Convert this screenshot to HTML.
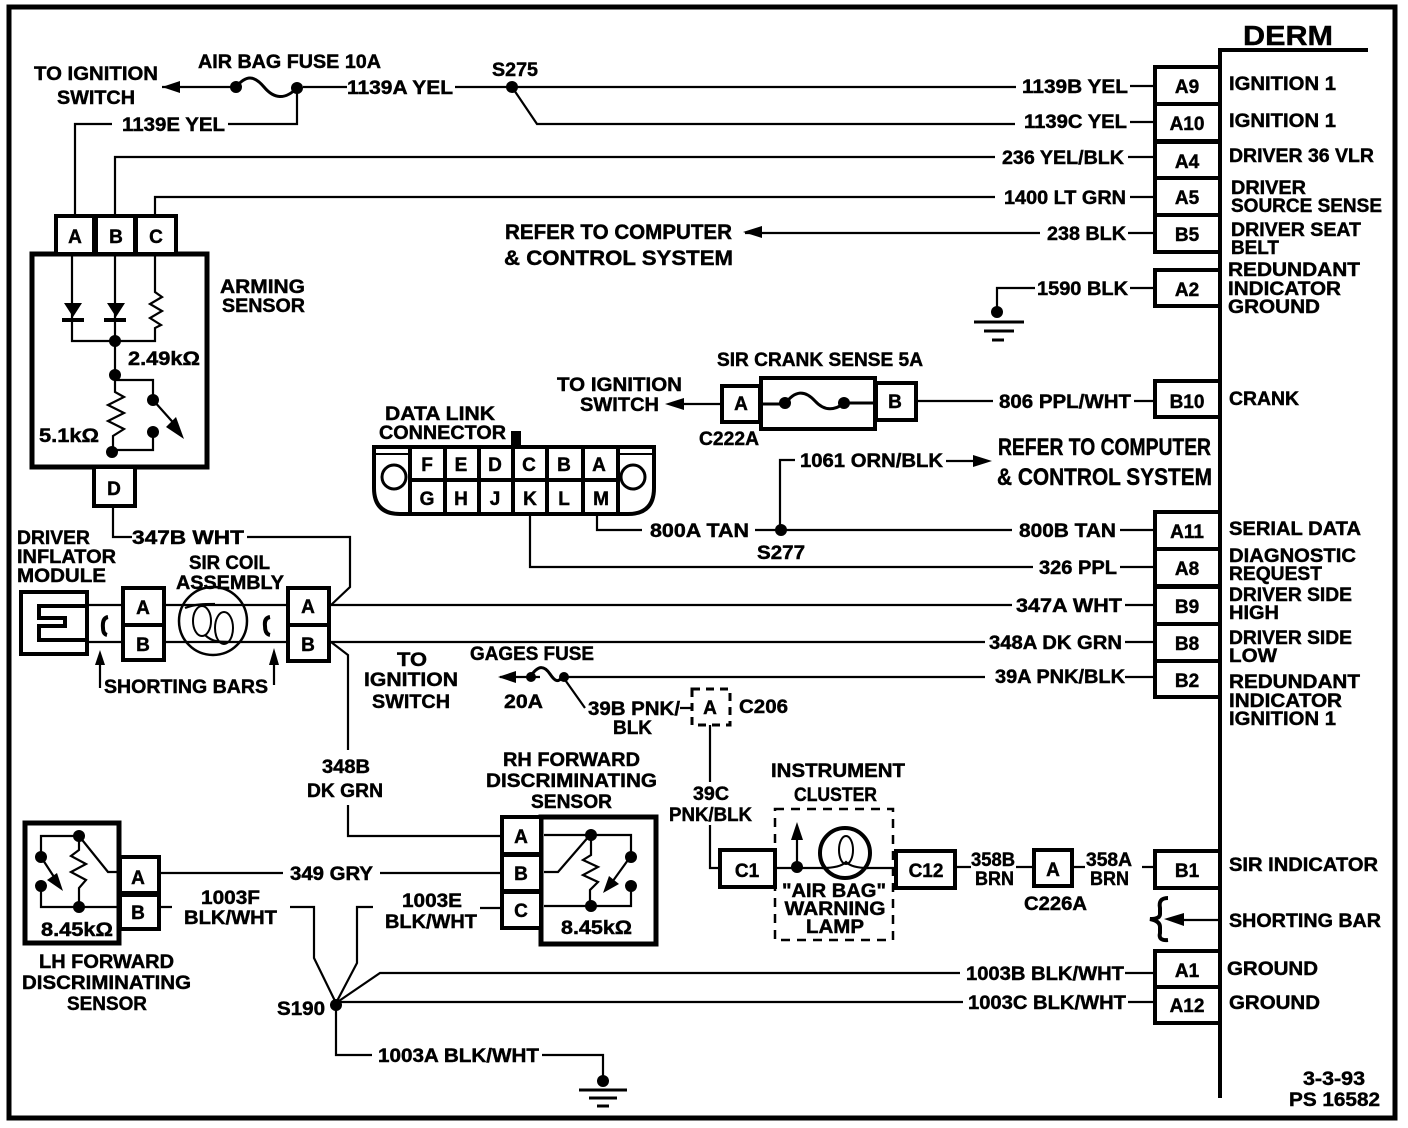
<!DOCTYPE html>
<html><head><meta charset="utf-8"><style>
html,body{margin:0;padding:0;background:#fff}
svg{display:block}
text{font-family:"Liberation Sans",sans-serif;font-weight:bold;font-size:19px;fill:#000;stroke:#000;stroke-width:.45}
.w{fill:none;stroke:#000;stroke-width:2.2}
.b{fill:#fff;stroke:#000;stroke-width:4}
.d{fill:#000;stroke:none}
.m{text-anchor:middle}
</style></head><body>
<svg width="1408" height="1128" viewBox="0 0 1408 1128" xmlns="http://www.w3.org/2000/svg">
<rect width="1408" height="1128" fill="#fff"/>
<rect x="9" y="7" width="1386" height="1111" fill="none" stroke="#000" stroke-width="5"/>

<!-- DERM -->
<path d="M1220 1098V50H1368" fill="none" stroke="#000" stroke-width="4"/>
<text x="1243" y="45" textLength="90" lengthAdjust="spacingAndGlyphs" style="font-size:28px">DERM</text>

<!-- Wires -->
<path class="w" d="M303 87H347M455 87H1016M1130 86H1155M512 87L537 124H1015M1130 122H1155M1128 157H1155M1130 197H1155M1128 233H1155M1130 288H1155M1134 401H1155"/>
<path class="w" d="M75 216V124H112M228 124H297V88M115 216V157H995M155 216V197H995M1040 233H745M1035 288H997V310"/>
<path class="w" d="M162 87H236"/>
<path class="w" d="M918 401H993M720 404H683"/>
<path class="w" d="M780 530V460H795M946 461H975"/>
<path class="w" d="M597 514V530H642M755 530H1012M1120 530H1155M530 514V567H1033M1120 567H1155"/>
<path class="w" d="M113 506V537H132M247 537H350V587L331 605"/>
<path class="w" d="M331 605H1012M1125 605H1155M331 642H985M1125 642H1155M331 642L348 655V750M348 805V836H502"/>
<path class="w" d="M500 677H540M563 677H985M1125 677H1155M563 677L585 708M680 708H692"/>
<path class="w" d="M710 722V782M710 825V868H722"/>
<path class="w" d="M160 873H283M380 873H502M160 907H172M290 907H314V958L336 1003M373 907H357V963L336 1003M336 1003L380 973H960M1125 973H1155M336 1002H963M1128 1002H1155M336 1003V1055H372M542 1055H603V1085M480 908H502"/>
<path class="w" d="M957 867H971M1142 867H1155M1175 920H1220"/>

<!-- DERM pins -->
<g class="b">
<rect x="1155" y="67" width="65" height="37"/><rect x="1155" y="104" width="65" height="37"/>
<rect x="1155" y="142" width="65" height="36"/><rect x="1155" y="178" width="65" height="37"/>
<rect x="1155" y="215" width="65" height="37"/><rect x="1155" y="270" width="65" height="36"/>
<rect x="1155" y="381" width="65" height="36"/><rect x="1155" y="512" width="65" height="37"/>
<rect x="1155" y="549" width="65" height="37"/><rect x="1155" y="587" width="65" height="37"/>
<rect x="1155" y="624" width="65" height="37"/><rect x="1155" y="661" width="65" height="36"/>
<rect x="1155" y="851" width="65" height="37"/><rect x="1155" y="951" width="65" height="36"/>
<rect x="1155" y="987" width="65" height="36"/>
</g>
<g class="m">
<text x="1187" y="93">A9</text><text x="1187" y="130">A10</text><text x="1187" y="168">A4</text><text x="1187" y="204">A5</text>
<text x="1187" y="241">B5</text><text x="1187" y="296">A2</text><text x="1187" y="408">B10</text><text x="1187" y="538">A11</text>
<text x="1187" y="575">A8</text><text x="1187" y="613">B9</text><text x="1187" y="650">B8</text><text x="1187" y="687">B2</text>
<text x="1187" y="877">B1</text><text x="1187" y="977">A1</text><text x="1187" y="1012">A12</text>
</g>

<!-- DERM labels -->
<text x="1229" y="90" textLength="107" lengthAdjust="spacingAndGlyphs">IGNITION 1</text>
<text x="1229" y="127" textLength="107" lengthAdjust="spacingAndGlyphs">IGNITION 1</text>
<text x="1229" y="162" textLength="145" lengthAdjust="spacingAndGlyphs">DRIVER 36 VLR</text>
<text x="1231" y="194" textLength="75" lengthAdjust="spacingAndGlyphs">DRIVER</text>
<text x="1231" y="212" textLength="151" lengthAdjust="spacingAndGlyphs">SOURCE SENSE</text>
<text x="1231" y="236" textLength="130" lengthAdjust="spacingAndGlyphs">DRIVER SEAT</text>
<text x="1231" y="254" textLength="48" lengthAdjust="spacingAndGlyphs">BELT</text>
<text x="1228" y="276" textLength="132" lengthAdjust="spacingAndGlyphs">REDUNDANT</text>
<text x="1228" y="295" textLength="113" lengthAdjust="spacingAndGlyphs">INDICATOR</text>
<text x="1228" y="313" textLength="92" lengthAdjust="spacingAndGlyphs">GROUND</text>
<text x="1229" y="405" textLength="70" lengthAdjust="spacingAndGlyphs">CRANK</text>
<text x="1229" y="535" textLength="132" lengthAdjust="spacingAndGlyphs">SERIAL DATA</text>
<text x="1229" y="562" textLength="127" lengthAdjust="spacingAndGlyphs">DIAGNOSTIC</text>
<text x="1229" y="580" textLength="93" lengthAdjust="spacingAndGlyphs">REQUEST</text>
<text x="1229" y="601" textLength="123" lengthAdjust="spacingAndGlyphs">DRIVER SIDE</text>
<text x="1229" y="619" textLength="50" lengthAdjust="spacingAndGlyphs">HIGH</text>
<text x="1229" y="644" textLength="123" lengthAdjust="spacingAndGlyphs">DRIVER SIDE</text>
<text x="1229" y="662" textLength="48" lengthAdjust="spacingAndGlyphs">LOW</text>
<text x="1229" y="688" textLength="131" lengthAdjust="spacingAndGlyphs">REDUNDANT</text>
<text x="1229" y="707" textLength="113" lengthAdjust="spacingAndGlyphs">INDICATOR</text>
<text x="1229" y="725" textLength="107" lengthAdjust="spacingAndGlyphs">IGNITION 1</text>
<text x="1229" y="871" textLength="149" lengthAdjust="spacingAndGlyphs">SIR INDICATOR</text>
<text x="1229" y="927" textLength="152" lengthAdjust="spacingAndGlyphs">SHORTING BAR</text>
<text x="1227" y="975" textLength="91" lengthAdjust="spacingAndGlyphs">GROUND</text>
<text x="1229" y="1009" textLength="91" lengthAdjust="spacingAndGlyphs">GROUND</text>
<text x="1303" y="1085" textLength="62" lengthAdjust="spacingAndGlyphs">3-3-93</text>
<text x="1289" y="1106" textLength="91" lengthAdjust="spacingAndGlyphs">PS 16582</text>

<!-- Shorting bar DERM -->
<path d="M1168 898Q1158 898 1160 908V914Q1160 919 1150 919Q1160 921 1160 927V933Q1158 941 1168 940" fill="none" stroke="#000" stroke-width="4"/>
<path class="d" d="M1164 919L1184 913V926Z"/>

<!-- Wire labels -->
<text x="347" y="94" textLength="106" lengthAdjust="spacingAndGlyphs">1139A YEL</text>
<text x="492" y="76" textLength="46" lengthAdjust="spacingAndGlyphs">S275</text>
<text x="1022" y="93" textLength="106" lengthAdjust="spacingAndGlyphs">1139B YEL</text>
<text x="1024" y="128" textLength="103" lengthAdjust="spacingAndGlyphs">1139C YEL</text>
<text x="1002" y="164" textLength="122" lengthAdjust="spacingAndGlyphs">236 YEL/BLK</text>
<text x="1004" y="204" textLength="122" lengthAdjust="spacingAndGlyphs">1400 LT GRN</text>
<text x="1047" y="240" textLength="79" lengthAdjust="spacingAndGlyphs">238 BLK</text>
<text x="1037" y="295" textLength="91" lengthAdjust="spacingAndGlyphs">1590 BLK</text>
<text x="999" y="408" textLength="132" lengthAdjust="spacingAndGlyphs">806 PPL/WHT</text>
<text x="1019" y="537" textLength="97" lengthAdjust="spacingAndGlyphs">800B TAN</text>
<text x="1039" y="574" textLength="78" lengthAdjust="spacingAndGlyphs">326 PPL</text>
<text x="1016" y="612" textLength="106" lengthAdjust="spacingAndGlyphs">347A WHT</text>
<text x="989" y="649" textLength="133" lengthAdjust="spacingAndGlyphs">348A DK GRN</text>
<text x="995" y="683" textLength="130" lengthAdjust="spacingAndGlyphs">39A PNK/BLK</text>
<text x="966" y="980" textLength="158" lengthAdjust="spacingAndGlyphs">1003B BLK/WHT</text>
<text x="968" y="1009" textLength="158" lengthAdjust="spacingAndGlyphs">1003C BLK/WHT</text>
<text x="378" y="1062" textLength="161" lengthAdjust="spacingAndGlyphs">1003A BLK/WHT</text>

<text x="198" y="68" textLength="183" lengthAdjust="spacingAndGlyphs">AIR BAG FUSE 10A</text>
<text x="34" y="80" textLength="124" lengthAdjust="spacingAndGlyphs">TO IGNITION</text>
<text x="57" y="104" textLength="78" lengthAdjust="spacingAndGlyphs">SWITCH</text>
<text x="122" y="131" textLength="103" lengthAdjust="spacingAndGlyphs">1139E YEL</text>
<text x="505" y="239" textLength="227" lengthAdjust="spacingAndGlyphs" style="font-size:21px">REFER TO COMPUTER</text>
<text x="504" y="265" textLength="229" lengthAdjust="spacingAndGlyphs" style="font-size:21px">&amp; CONTROL SYSTEM</text>
<text x="220" y="293" textLength="85" lengthAdjust="spacingAndGlyphs">ARMING</text>
<text x="222" y="312" textLength="83" lengthAdjust="spacingAndGlyphs">SENSOR</text>

<!-- Fuse air bag -->
<path d="M236 87C246 75 254 75 264 87S285 100 297 88" fill="none" stroke="#000" stroke-width="3"/>
<circle class="d" cx="236" cy="87" r="6"/><circle class="d" cx="297" cy="88" r="6"/>
<path class="d" d="M162 87L180 81V93Z"/>
<circle class="d" cx="512" cy="87" r="6"/>
<path class="d" d="M743 232L762 226V238Z"/>

<!-- Ground A2 -->
<circle class="d" cx="997" cy="312" r="6"/>
<path d="M974 322H1024M984 331H1014M992 340H1004" fill="none" stroke="#000" stroke-width="3"/>

<!-- Arming sensor -->
<rect x="32" y="254" width="175" height="213" fill="#fff" stroke="#000" stroke-width="5"/>
<rect x="56" y="216" width="38" height="38" class="b"/><rect x="96" y="216" width="39" height="38" class="b"/><rect x="136" y="216" width="40" height="38" class="b"/>
<text class="m" x="75" y="243">A</text><text class="m" x="116" y="243">B</text><text class="m" x="156" y="243">C</text>
<path class="w" d="M72 256V341H155V328L161 325 150 318 162 311 150 304 162 297 155 292V256M115 256V375M115 380H153V400M113 450H153V432"/>
<path class="w" d="M115 375V392L124 397 108 405 124 413 108 421 124 429 113 436V452"/>
<path class="d" d="M64 303H82L73 317ZM107 303H125L116 317Z"/>
<rect class="d" x="62" y="318" width="22" height="4"/><rect class="d" x="104" y="318" width="22" height="4"/>
<circle class="d" cx="115" cy="341" r="6"/><circle class="d" cx="115" cy="375" r="6"/><circle class="d" cx="112" cy="452" r="6"/>
<circle class="d" cx="153" cy="400" r="6"/><circle class="d" cx="153" cy="432" r="6"/>
<path class="w" d="M153 400L178 428"/><path class="d" d="M184 439L166 427 176 417Z"/>
<rect x="94" y="467" width="41" height="39" class="b"/><text class="m" x="114" y="495">D</text>
<text x="128" y="365" textLength="72" lengthAdjust="spacingAndGlyphs">2.49kΩ</text>
<text x="39" y="442" textLength="60" lengthAdjust="spacingAndGlyphs">5.1kΩ</text>

<!-- Crank -->
<text x="717" y="366" textLength="206" lengthAdjust="spacingAndGlyphs">SIR CRANK SENSE 5A</text>
<text x="557" y="391" textLength="125" lengthAdjust="spacingAndGlyphs">TO IGNITION</text>
<text x="580" y="411" textLength="79" lengthAdjust="spacingAndGlyphs">SWITCH</text>
<path class="d" d="M665 404L684 398V410Z"/>
<rect x="722" y="386" width="38" height="36" class="b"/><rect x="761" y="378" width="114" height="51" class="b"/><rect x="876" y="383" width="40" height="37" class="b"/>
<text class="m" x="741" y="410">A</text><text class="m" x="895" y="408">B</text>
<path d="M761 404H785C795 390 805 390 815 401S835 410 845 403H875" fill="none" stroke="#000" stroke-width="3"/>
<circle class="d" cx="785" cy="403" r="6"/><circle class="d" cx="844" cy="403" r="6"/>
<text x="699" y="445" textLength="60" lengthAdjust="spacingAndGlyphs">C222A</text>

<!-- Refer (2) -->
<text x="998" y="455" textLength="213" lengthAdjust="spacingAndGlyphs" style="font-size:24px">REFER TO COMPUTER</text>
<text x="997" y="485" textLength="215" lengthAdjust="spacingAndGlyphs" style="font-size:24px">&amp; CONTROL SYSTEM</text>
<text x="800" y="467" textLength="143" lengthAdjust="spacingAndGlyphs">1061 ORN/BLK</text>
<path class="d" d="M992 461L973 455V467Z"/>
<text x="650" y="537" textLength="99" lengthAdjust="spacingAndGlyphs">800A TAN</text>
<text x="757" y="559" textLength="48" lengthAdjust="spacingAndGlyphs">S277</text>
<circle class="d" cx="781" cy="530" r="6"/>

<!-- DLC -->
<text x="385" y="420" textLength="110" lengthAdjust="spacingAndGlyphs">DATA LINK</text>
<text x="379" y="439" textLength="127" lengthAdjust="spacingAndGlyphs">CONNECTOR</text>
<rect x="511" y="431" width="10" height="14" fill="#000"/>
<path d="M374 447H654V488Q654 514 628 514H400Q374 514 374 488Z" fill="#fff" stroke="#000" stroke-width="4"/>
<path d="M376 454H410M620 454H652" stroke="#000" stroke-width="2"/>
<path d="M410 447V514M445 447V514M479 447V514M513 447V514M547 447V514M583 447V514M618 447V514M410 480H618" stroke="#000" stroke-width="4"/>
<circle cx="394" cy="477" r="12" fill="#fff" stroke="#000" stroke-width="3"/><circle cx="633" cy="477" r="12" fill="#fff" stroke="#000" stroke-width="3"/>
<g class="m">
<text x="427" y="471">F</text><text x="461" y="471">E</text><text x="495" y="471">D</text><text x="529" y="471">C</text><text x="564" y="471">B</text><text x="599" y="471">A</text>
<text x="427" y="505">G</text><text x="461" y="505">H</text><text x="495" y="505">J</text><text x="530" y="505">K</text><text x="564" y="505">L</text><text x="601" y="505">M</text>
</g>

<!-- Inflator / coil -->
<text x="17" y="544" textLength="73" lengthAdjust="spacingAndGlyphs">DRIVER</text>
<text x="17" y="563" textLength="99" lengthAdjust="spacingAndGlyphs">INFLATOR</text>
<text x="17" y="582" textLength="89" lengthAdjust="spacingAndGlyphs">MODULE</text>
<text x="132" y="544" textLength="112" lengthAdjust="spacingAndGlyphs">347B WHT</text>
<text x="189" y="569" textLength="81" lengthAdjust="spacingAndGlyphs">SIR COIL</text>
<text x="176" y="589" textLength="108" lengthAdjust="spacingAndGlyphs">ASSEMBLY</text>
<rect x="21" y="592" width="66" height="62" fill="#fff" stroke="#000" stroke-width="4"/>
<path class="w" d="M85 605H122M85 642H122M165 605H288M165 642H288" stroke-width="3"/>
<path d="M87 606H39V618H65V626H39V640H87" fill="none" stroke="#000" stroke-width="4"/>
<rect x="123" y="588" width="41" height="37" class="b"/><rect x="123" y="625" width="41" height="35" class="b"/>
<rect x="288" y="588" width="41" height="37" class="b"/><rect x="288" y="625" width="41" height="36" class="b"/>
<text class="m" x="143" y="614">A</text><text class="m" x="143" y="651">B</text><text class="m" x="308" y="613">A</text><text class="m" x="308" y="651">B</text>
<circle cx="213" cy="621" r="34" fill="none" stroke="#000" stroke-width="2.5"/>
<path class="w" d="M185 608C195 604 205 604 215 604"/><path class="w" d="M205 635C212 642 220 642 228 642"/>
<ellipse cx="202" cy="621" rx="9" ry="15" fill="none" stroke="#000" stroke-width="2"/><ellipse cx="224" cy="628" rx="9" ry="16" fill="none" stroke="#000" stroke-width="2"/>
<path d="M108 617Q102 618 103 628Q103 634 107 635M270 617Q264 618 265 626Q265 634 270 635" fill="none" stroke="#000" stroke-width="4"/>
<path class="w" d="M100 665V688M274 665V685"/><path class="d" d="M100 650L95 665H105ZM274 648L269 665H279Z"/>
<text x="104" y="693" textLength="164" lengthAdjust="spacingAndGlyphs">SHORTING BARS</text>

<!-- Gages -->
<text x="397" y="666" textLength="30" lengthAdjust="spacingAndGlyphs">TO</text>
<text x="364" y="686" textLength="94" lengthAdjust="spacingAndGlyphs">IGNITION</text>
<text x="372" y="708" textLength="78" lengthAdjust="spacingAndGlyphs">SWITCH</text>
<text x="470" y="660" textLength="124" lengthAdjust="spacingAndGlyphs">GAGES FUSE</text>
<text x="504" y="708" textLength="39" lengthAdjust="spacingAndGlyphs">20A</text>
<path class="d" d="M498 677L516 671V683Z"/>
<path d="M530 677C538 665 544 665 550 674S558 682 564 676" fill="none" stroke="#000" stroke-width="3"/>
<circle class="d" cx="531" cy="677" r="5"/><circle class="d" cx="564" cy="677" r="5"/>
<text x="588" y="715" textLength="92" lengthAdjust="spacingAndGlyphs">39B PNK/</text>
<text x="613" y="734" textLength="39" lengthAdjust="spacingAndGlyphs">BLK</text>
<rect x="692" y="689" width="38" height="36" fill="#fff" stroke="#000" stroke-width="3" stroke-dasharray="8 6"/>
<text class="m" x="710" y="714">A</text>
<text x="739" y="713" textLength="49" lengthAdjust="spacingAndGlyphs">C206</text>
<text x="322" y="773" textLength="48" lengthAdjust="spacingAndGlyphs">348B</text>
<text x="307" y="797" textLength="76" lengthAdjust="spacingAndGlyphs">DK GRN</text>
<text x="693" y="800" textLength="36" lengthAdjust="spacingAndGlyphs">39C</text>
<text x="669" y="821" textLength="83" lengthAdjust="spacingAndGlyphs">PNK/BLK</text>

<!-- RH Sensor -->
<text x="503" y="766" textLength="137" lengthAdjust="spacingAndGlyphs">RH FORWARD</text>
<text x="486" y="787" textLength="171" lengthAdjust="spacingAndGlyphs">DISCRIMINATING</text>
<text x="531" y="808" textLength="81" lengthAdjust="spacingAndGlyphs">SENSOR</text>
<rect x="541" y="817" width="115" height="127" fill="#fff" stroke="#000" stroke-width="5"/>
<rect x="502" y="817" width="39" height="37" class="b"/><rect x="502" y="855" width="39" height="36" class="b"/><rect x="502" y="892" width="39" height="36" class="b"/>
<text class="m" x="521" y="843">A</text><text class="m" x="521" y="880">B</text><text class="m" x="521" y="917">C</text>
<path class="w" d="M544 835H631V855M544 872H558L590 835M591 835V855L583 860 598 867 583 875 598 882 590 890V906M544 906H631V888"/>
<circle class="d" cx="591" cy="835" r="6"/><circle class="d" cx="591" cy="906" r="6"/><circle class="d" cx="631" cy="857" r="6"/><circle class="d" cx="631" cy="886" r="6"/>
<path class="w" d="M628 860L610 885"/><path class="d" d="M603 893L609 876 619 884Z"/>
<text x="561" y="934" textLength="71" lengthAdjust="spacingAndGlyphs">8.45kΩ</text>
<text x="402" y="907" textLength="60" lengthAdjust="spacingAndGlyphs">1003E</text>
<text x="385" y="928" textLength="92" lengthAdjust="spacingAndGlyphs">BLK/WHT</text>

<!-- LH Sensor -->
<rect x="25" y="823" width="94" height="120" fill="#fff" stroke="#000" stroke-width="5"/>
<rect x="120" y="857" width="39" height="36" class="b"/><rect x="120" y="895" width="39" height="34" class="b"/>
<text class="m" x="138" y="884">A</text><text class="m" x="138" y="919">B</text>
<path class="w" d="M41 857V836H79V850L71 856 86 864 71 872 86 880 79 888V907H41V887M79 836L108 872H119M79 907H119"/>
<circle class="d" cx="79" cy="836" r="6"/><circle class="d" cx="79" cy="907" r="6"/><circle class="d" cx="41" cy="857" r="6"/><circle class="d" cx="41" cy="886" r="6"/>
<path class="w" d="M43 860L56 880"/><path class="d" d="M63 891L47 880 57 873Z"/>
<text x="41" y="936" textLength="72" lengthAdjust="spacingAndGlyphs">8.45kΩ</text>
<text x="39" y="968" textLength="135" lengthAdjust="spacingAndGlyphs">LH FORWARD</text>
<text x="22" y="989" textLength="169" lengthAdjust="spacingAndGlyphs">DISCRIMINATING</text>
<text x="67" y="1010" textLength="80" lengthAdjust="spacingAndGlyphs">SENSOR</text>
<text x="201" y="904" textLength="59" lengthAdjust="spacingAndGlyphs">1003F</text>
<text x="184" y="924" textLength="93" lengthAdjust="spacingAndGlyphs">BLK/WHT</text>
<text x="290" y="880" textLength="83" lengthAdjust="spacingAndGlyphs">349 GRY</text>
<text x="277" y="1015" textLength="48" lengthAdjust="spacingAndGlyphs">S190</text>
<circle class="d" cx="336" cy="1005" r="6"/>
<circle class="d" cx="603" cy="1081" r="6"/>
<path d="M579 1090H627M589 1098H617M597 1106H609" fill="none" stroke="#000" stroke-width="3"/>

<!-- Instrument cluster -->
<text x="771" y="777" textLength="134" lengthAdjust="spacingAndGlyphs">INSTRUMENT</text>
<text x="794" y="801" textLength="83" lengthAdjust="spacingAndGlyphs">CLUSTER</text>
<rect x="775" y="809" width="118" height="131" fill="none" stroke="#000" stroke-width="2.5" stroke-dasharray="9 7"/>
<rect x="720" y="850" width="55" height="37" class="b"/><text class="m" x="747" y="877">C1</text>
<rect x="896" y="851" width="59" height="37" class="b"/><text class="m" x="926" y="877">C12</text>
<path class="w" d="M775 868H896M797 868V830"/><path class="d" d="M797 822L791 840H803Z"/>
<circle class="d" cx="797" cy="867" r="6"/>
<circle cx="845" cy="853" r="25" fill="#fff" stroke="#000" stroke-width="4"/>
<ellipse cx="846" cy="850" rx="7" ry="14" fill="none" stroke="#000" stroke-width="2"/>
<path class="w" d="M822 868Q840 868 846 862Q852 868 868 868"/>
<text class="m" x="834" y="897" textLength="104" lengthAdjust="spacingAndGlyphs">"AIR BAG"</text>
<text class="m" x="835" y="915" textLength="101" lengthAdjust="spacingAndGlyphs">WARNING</text>
<text class="m" x="835" y="933" textLength="58" lengthAdjust="spacingAndGlyphs">LAMP</text>
<text x="971" y="866" textLength="44" lengthAdjust="spacingAndGlyphs">358B</text>
<text x="975" y="885" textLength="39" lengthAdjust="spacingAndGlyphs">BRN</text>
<path class="w" d="M1016 867H1034M1072 867H1085"/>
<rect x="1034" y="850" width="38" height="36" class="b"/><text class="m" x="1053" y="876">A</text>
<text x="1086" y="866" textLength="46" lengthAdjust="spacingAndGlyphs">358A</text>
<text x="1090" y="885" textLength="39" lengthAdjust="spacingAndGlyphs">BRN</text>
<text x="1024" y="910" textLength="63" lengthAdjust="spacingAndGlyphs">C226A</text>
</svg>
</body></html>
